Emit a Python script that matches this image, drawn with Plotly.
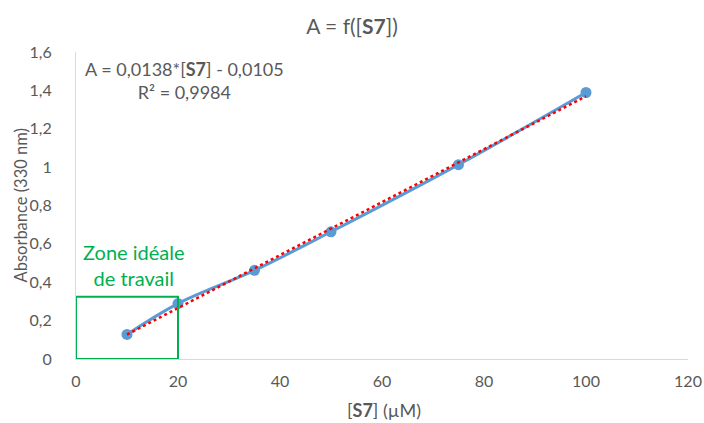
import plotly.graph_objects as go

conc = [10, 20, 35, 50, 75, 100]
absorb = [0.128, 0.289, 0.462, 0.663, 1.013, 1.389]
slope = 0.0138
intercept = -0.0105
fit_x = [10, 100]
fit_y = [slope * x + intercept for x in fit_x]
zone_x = [0, 20]
zone_y = [0, 0.325]

gray = "#595959"
font = "Lato, 'Open Sans', sans-serif"

fig = go.Figure()
fig.add_trace(go.Scatter(x=conc, y=absorb, mode="lines+markers",
                         line=dict(color="#5B9BD5", width=3, shape="spline"),
                         marker=dict(color="#5B9BD5", size=11),
                         showlegend=False))
fig.add_trace(go.Scatter(x=fit_x, y=fit_y, mode="lines",
                         line=dict(color="#FF0000", width=2.5, dash="dot"),
                         showlegend=False))

fig.add_shape(type="rect", x0=zone_x[0], x1=zone_x[1], y0=zone_y[0], y1=zone_y[1],
              line=dict(color="#00B050", width=2))
fig.add_annotation(x=11.3, y=0.49, text="Zone idéale<br>de travail", showarrow=False,
                   font=dict(color="#00B050", size=20, family=font), align="center")
fig.add_annotation(x=21.2, y=1.453, text="A = 0,0138*[<b>S7</b>] - 0,0105<br>R² = 0,9984",
                   showarrow=False, xanchor="center", yanchor="middle", align="center",
                   font=dict(color=gray, size=18, family=font))
# axis titles
fig.add_annotation(xref="paper", yref="paper", x=-0.0915, y=0.5, text="Absorbance (330 nm)",
                   textangle=-90, showarrow=False, xanchor="center", yanchor="middle",
                   font=dict(color=gray, size=16.5, family=font))
fig.add_annotation(xref="paper", yref="paper", x=0.503, y=-0.166, text="[<b>S7</b>] (µM)",
                   showarrow=False, xanchor="center", yanchor="middle",
                   font=dict(color=gray, size=18, family=font))

fig.update_layout(
    width=704, height=423,
    margin=dict(l=76, r=16, t=52, b=64, autoexpand=False),
    paper_bgcolor="white", plot_bgcolor="white",
    separators=", ",
    title=dict(text="A = f([<b>S7</b>])", x=0.5, xanchor="center", y=0.936, yanchor="middle",
               font=dict(size=21, color=gray, family=font)),
    font=dict(family=font, color=gray),
    xaxis=dict(range=[0, 120], dtick=20, showgrid=False, zeroline=False,
               showline=True, linecolor="#D9D9D9", linewidth=1, automargin=False,
               ticks="outside", ticklen=8, tickcolor="rgba(0,0,0,0)",
               tickfont=dict(size=16, color=gray)),
    yaxis=dict(range=[0, 1.6], dtick=0.2, showgrid=False, zeroline=False,
               showline=True, linecolor="#D9D9D9", linewidth=1, automargin=False,
               ticks="outside", ticklen=20, tickcolor="rgba(0,0,0,0)",
               tickfont=dict(size=16, color=gray)),
)

fig.write_html("out.html", config={"displayModeBar": False},
               post_script="document.body.style.margin='0';document.body.style.overflow='hidden';")
